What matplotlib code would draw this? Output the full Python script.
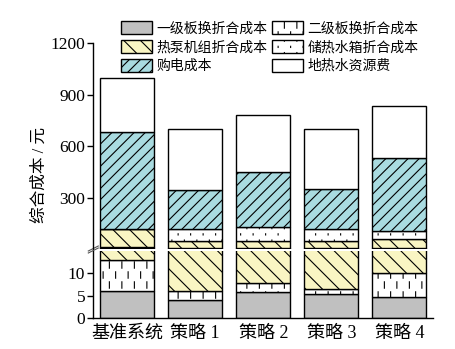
import warnings
import numpy as np
import matplotlib
matplotlib.use('Agg')
import matplotlib.pyplot as plt
from matplotlib import hatch as mhatch
from matplotlib.path import Path

# cost breakdown per scheme (元), bottom to top of each stack
schemes = ['基准系统', '策略 1', '策略 2', '策略 3', '策略 4']
plate1 = [6.0, 4.0, 5.8, 5.3, 4.8]
plate2 = [7.0, 2.0, 2.1, 1.1, 5.2]
heatpump = [104, 41, 39, 41, 49]
tank = [0, 73, 82, 73, 46]
power = [566, 226, 322, 232, 427]
geowater = [317, 354, 330, 347, 303]

labels = ['一级板换折合成本', '二级板换折合成本', '热泵机组折合成本',
          '储热水箱折合成本', '购电成本', '地热水资源费']

warnings.filterwarnings('ignore', message='hatch must consist')


class StaggeredHatch(mhatch.HatchPatternBase):
    # short vertical strokes on a staggered grid
    char = None
    rows, cols, half = 0, 0, 0.0

    def __init__(self, hatch, density):
        n = hatch.count(self.char) if hatch else 0
        self.nr = self.rows * n
        self.nc = self.cols * n
        self.num_vertices = 2 * self.nr * self.nc

    def set_vertices_and_codes(self, vertices, codes):
        i, j = np.meshgrid(np.arange(self.nr), np.arange(self.nc), indexing='ij')
        x = ((j + 0.25 + 0.5 * (i % 2)) / self.nc).ravel()
        y = ((i + 0.5) / self.nr).ravel()
        vertices[0::2, 0] = x
        vertices[1::2, 0] = x
        vertices[0::2, 1] = y - self.half
        vertices[1::2, 1] = y + self.half
        codes[0::2] = Path.MOVETO
        codes[1::2] = Path.LINETO


class DashHatch(StaggeredHatch):
    char, rows, cols, half = '!', 10, 8, 0.032


class DotHatch(StaggeredHatch):
    char, rows, cols, half = ':', 16, 8, 0.006


mhatch._hatch_types.extend([DashHatch, DotHatch])

plt.rcParams['font.family'] = ['Liberation Serif', 'Noto Sans CJK SC']
plt.rcParams['hatch.linewidth'] = 0.8
plt.rcParams['axes.linewidth'] = 1.0

colors = ['#c0c0c0', 'white', '#f9f5c3', 'white', '#a9dbe0', 'white']
hatches = [None, '!', '\\\\', ':', '///', None]
series = [plate1, plate2, heatpump, tank, power, geowater]

fig = plt.figure(figsize=(4.55, 3.49), dpi=100)
W, H = 455, 349
ax_top = fig.add_axes([93.3 / W, 1 - 248.5 / H, 340 / W, 205.2 / H])
ax_bot = fig.add_axes([93.3 / W, 1 - 318 / H, 340 / W, 67.5 / H])

x = np.arange(len(schemes))
handles = []
for ax in (ax_top, ax_bot):
    base = np.zeros(len(schemes))
    for vals, c, h, lab in zip(series, colors, hatches, labels):
        bars = ax.bar(x, vals, 0.79, bottom=base, color=c, hatch=h,
                      edgecolor='black', linewidth=1.0, label=lab)
        base += np.array(vals)
        if ax is ax_top:
            handles.append(bars)
    ax.set_xlim(-0.5, 4.5)
    ax.spines[['top', 'right']].set_visible(False)
    ax.tick_params(axis='y', direction='out', length=4.3, width=1.0,
                   pad=1.5, labelsize=12.5)

ax_top.set_ylim(5, 1200)
ax_top.set_yticks([300, 600, 900, 1200])
ax_top.spines['bottom'].set_visible(False)
ax_top.xaxis.set_visible(False)

ax_bot.set_ylim(0, 15.1)
ax_bot.set_yticks([0, 5, 10])
ax_bot.set_xticks(x)
ax_bot.set_xticklabels(schemes, fontsize=13)
ax_bot.tick_params(axis='x', length=0, pad=5)

# break marks on the left spine
kw = dict(color='#555555', linewidth=0.8, clip_on=False)
dx = 5 / 340
ax_top.plot([-dx, dx], [-2.5 / 205.2, 2.5 / 205.2], transform=ax_top.transAxes, **kw)
ax_bot.plot([-dx, dx], [1 - 2.5 / 67.5, 1 + 2.5 / 67.5], transform=ax_bot.transAxes, **kw)

fig.text(40 / W, 1 - 175 / H, '综合成本 / 元', rotation=90, ha='center',
         va='center', fontsize=12)

order = [0, 2, 4, 1, 3, 5]
fig.legend([handles[i] for i in order], [labels[i] for i in order],
           loc='upper left', bbox_to_anchor=(120.7 / W, 1 - 21 / H),
           ncol=2, frameon=False, fontsize=10, borderpad=0, borderaxespad=0,
           handlelength=2.27, handleheight=1.1, handletextpad=0.3,
           columnspacing=0.3, labelspacing=0.32)

fig.savefig('out.png', dpi=100)
